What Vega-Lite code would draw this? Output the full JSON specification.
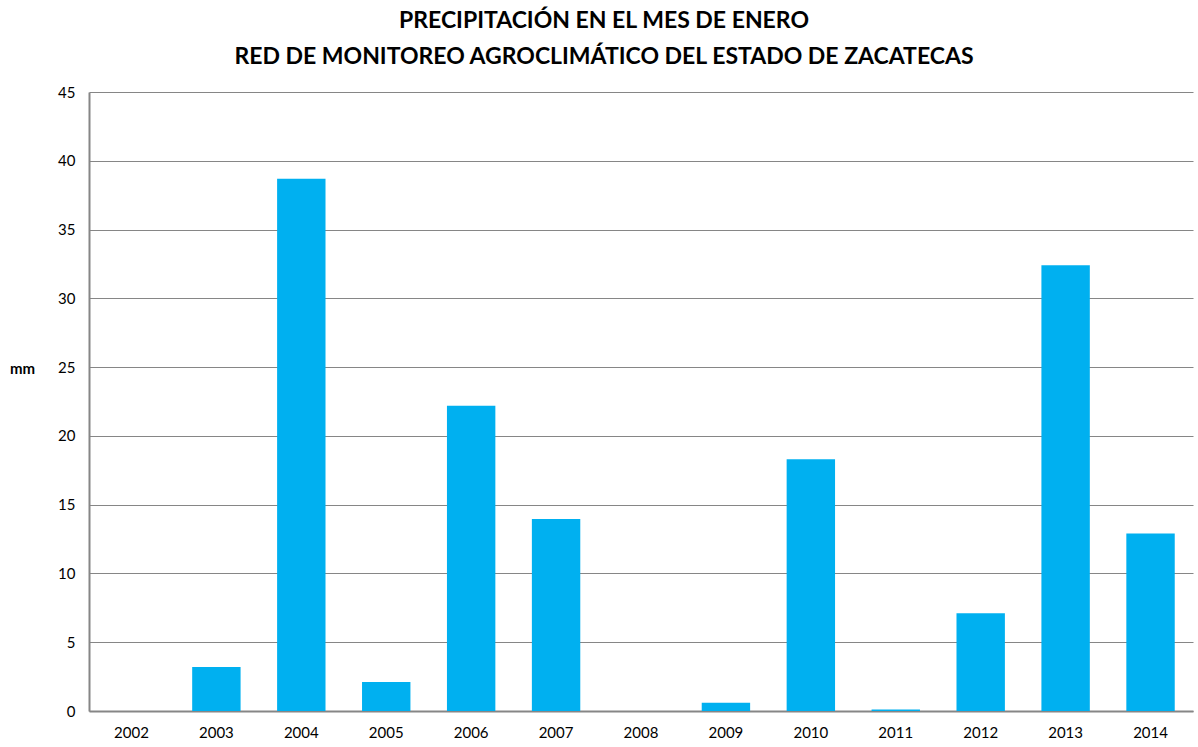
{
  "$schema": "https://vega.github.io/schema/vega-lite/v6.json",
  "width": 1104,
  "height": 619,
  "autosize": {"type": "none"},
  "padding": {"left": 89, "top": 92, "right": 5, "bottom": 36},
  "background": "white",
  "title": {
    "text": ["PRECIPITACIÓN EN EL MES DE ENERO", "RED DE MONITOREO AGROCLIMÁTICO DEL ESTADO DE ZACATECAS"],
    "font": "Lato",
    "fontSize": 23,
    "fontWeight": "bold",
    "color": "black",
    "anchor": "middle",
    "frame": "group",
    "dx": -37,
    "lineHeight": 36,
    "offset": 16
  },
  "data": {
    "values": [
      {"year": "2002", "mm": 0},
      {"year": "2003", "mm": 3.2},
      {"year": "2004", "mm": 38.7},
      {"year": "2005", "mm": 2.1},
      {"year": "2006", "mm": 22.2},
      {"year": "2007", "mm": 13.95},
      {"year": "2008", "mm": 0},
      {"year": "2009", "mm": 0.6},
      {"year": "2010", "mm": 18.3},
      {"year": "2011", "mm": 0.1},
      {"year": "2012", "mm": 7.1},
      {"year": "2013", "mm": 32.4},
      {"year": "2014", "mm": 12.9}
    ]
  },
  "mark": {"type": "bar", "color": "#00B0F0"},
  "encoding": {
    "x": {
      "field": "year",
      "type": "ordinal",
      "scale": {"paddingInner": 0.43, "paddingOuter": 0.215},
      "axis": {
        "title": null,
        "labelAngle": 0,
        "labelFont": "Lato",
        "labelFontSize": 15,
        "labelColor": "black",
        "ticks": false,
        "labelPadding": 14,
        "domainColor": "#868686",
        "domainWidth": 2
      }
    },
    "y": {
      "field": "mm",
      "type": "quantitative",
      "scale": {"domain": [0, 45]},
      "axis": {
        "values": [0, 5, 10, 15, 20, 25, 30, 35, 40, 45],
        "title": "mm",
        "titleAngle": 0,
        "titleFont": "Lato",
        "titleFontSize": 15,
        "titleFontWeight": "bold",
        "titleColor": "black",
        "titleX": -67,
        "titleY": 276,
        "titleAlign": "center",
        "titleBaseline": "middle",
        "labelFont": "Lato",
        "labelFontSize": 15,
        "labelColor": "black",
        "labelPadding": 14,
        "ticks": false,
        "grid": true,
        "gridColor": "#868686",
        "gridWidth": 1,
        "domainColor": "#868686",
        "domainWidth": 2
      }
    }
  },
  "config": {"view": {"stroke": null}}
}
